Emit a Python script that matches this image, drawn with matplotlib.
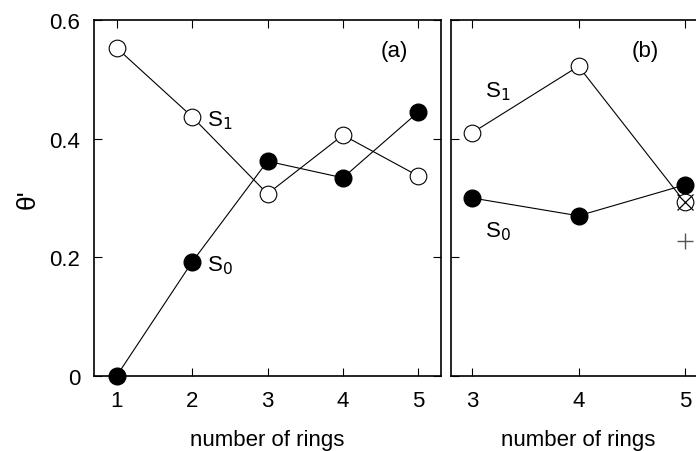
import matplotlib
matplotlib.use("Agg")
import matplotlib.pyplot as plt

plt.rcParams['font.family'] = ['Liberation Sans', 'DejaVu Sans']

# Panel (a)
rings_a = [1, 2, 3, 4, 5]
s1_a = [0.553, 0.437, 0.307, 0.406, 0.337]
s0_a = [0.0, 0.192, 0.362, 0.334, 0.445]

# Panel (b)
rings_b = [3, 4, 5]
s1_b = [0.410, 0.522, 0.293]
s0_b = [0.300, 0.270, 0.322]
cross_x = [5]
cross_y = [0.293]
plus_x = [5]
plus_y = [0.228]

yticks = [0, 0.2, 0.4, 0.6]
ytick_labels = ['0', '0.2', '0.4', '0.6']

W, H = 696, 452
fig = plt.figure(figsize=(W/100, H/100), dpi=100)

def px_axes(x0, x1, y0, y1):
    return fig.add_axes([x0/W, 1 - y1/H, (x1-x0)/W, (y1-y0)/H])

ax1 = px_axes(94, 441, 21, 377)
ax2 = px_axes(451, 706, 21, 377)

fs = 16
ms = 12
lw = 0.8

for ax in (ax1, ax2):
    ax.set_ylim(0, 0.6)
    ax.set_yticks(yticks)
    ax.tick_params(direction='in', top=True, right=True, length=6, width=0.8,
                   labelsize=fs, pad=10)
    for s in ax.spines.values():
        s.set_linewidth(1.2)
    ax.set_xlabel('number of rings', fontsize=fs, labelpad=13)

ax1.set_xlim(0.7, 5.3)
ax1.set_xticks(rings_a)
ax1.set_yticklabels(ytick_labels)
ax1.plot(rings_a, s1_a, '-', color='black', lw=lw, marker='o', ms=ms,
         mfc='white', mec='black', mew=0.8)
ax1.plot(rings_a, s0_a, '-', color='black', lw=lw, marker='o', ms=ms,
         mfc='black', mec='black', clip_on=False)
ax1.text(4.68, 0.548, '(a)', fontsize=fs, ha='center', va='center')
ax1.text(2.2, 0.432, r'S$_1$', fontsize=fs, ha='left', va='center')
ax1.text(2.2, 0.188, r'S$_0$', fontsize=fs, ha='left', va='center')
ax1.set_ylabel("θ'", fontsize=19)
ax1.yaxis.set_label_coords(-0.158, 0.5)

ax2.set_xlim(2.8, 5.2)
ax2.set_xticks(rings_b)
ax2.set_yticklabels([])
ax2.plot(rings_b, s1_b, '-', color='black', lw=lw, marker='o', ms=ms,
         mfc='white', mec='black', mew=0.8)
ax2.plot(rings_b, s0_b, '-', color='black', lw=lw, marker='o', ms=ms,
         mfc='black', mec='black')
ax2.plot(cross_x, cross_y, 'x', color='black', ms=ms, mew=0.9)
ax2.plot(plus_x, plus_y, '+', color='#555555', ms=ms, mew=1.0)
ax2.text(4.63, 0.548, '(b)', fontsize=fs, ha='center', va='center')
ax2.text(3.12, 0.48, r'S$_1$', fontsize=fs, ha='left', va='center')
ax2.text(3.12, 0.245, r'S$_0$', fontsize=fs, ha='left', va='center')

fig.savefig('out.png', dpi=100)
